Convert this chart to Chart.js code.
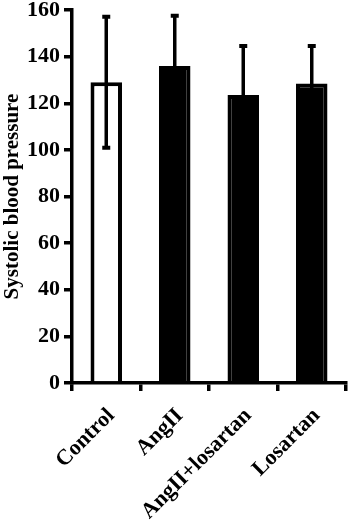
<!DOCTYPE html>
<html>
<head>
<meta charset="utf-8">
<script src="https://cdn.jsdelivr.net/npm/chart.js@4.4.0/dist/chart.umd.min.js"></script>
<style>
  html, body { margin: 0; padding: 0; background: #fff; }
  #wrap { width: 350px; height: 524px; position: relative; }
</style>
</head>
<body>
<div id="wrap"><canvas id="c" width="350" height="524"></canvas></div>
<script>
const categories = ['Control', 'AngII', 'AngII+losartan', 'Losartan'];
const meanValues = [129, 136, 123.5, 128.5];
const sdValues = [28.5, 22, 21.5, 16.5];
const fillColors = ['#ffffff', '#000000', '#000000', '#000000'];
const yTicks = [0, 20, 40, 60, 80, 100, 120, 140, 160];

const FONT = '"Liberation Serif", "Times New Roman", serif';

const errorBarPlugin = {
  id: 'errorBars',
  afterDatasetsDraw(chart) {
    const ctx = chart.ctx;
    const meta = chart.getDatasetMeta(0);
    const ys = chart.scales.y;
    ctx.save();
    ctx.strokeStyle = '#000';
    meta.data.forEach((bar, i) => {
      const x = bar.x;
      const yTop = ys.getPixelForValue(meanValues[i] + sdValues[i]);
      const yBot = ys.getPixelForValue(meanValues[i] - sdValues[i]);
      ctx.lineWidth = 3.5;
      ctx.beginPath();
      ctx.moveTo(x, yTop);
      ctx.lineTo(x, yBot);
      ctx.stroke();
      ctx.lineWidth = 4;
      ctx.beginPath();
      ctx.moveTo(x - 4, yTop + 1);
      ctx.lineTo(x + 4, yTop + 1);
      ctx.moveTo(x - 4, yBot - 1);
      ctx.lineTo(x + 4, yBot - 1);
      ctx.stroke();
    });
    ctx.restore();
  }
};

new Chart(document.getElementById('c'), {
  type: 'bar',
  data: {
    labels: categories,
    datasets: [{
      data: meanValues,
      backgroundColor: fillColors,
      borderColor: '#000',
      borderWidth: 4,
      borderSkipped: 'bottom',
      barPercentage: 0.46,
      categoryPercentage: 1.0
    }]
  },
  options: {
    responsive: false,
    animation: false,
    devicePixelRatio: 1,
    layout: { padding: { top: 10, right: 4, left: 0, bottom: 0 } },
    plugins: { legend: { display: false }, tooltip: { enabled: false } },
    scales: {
      x: {
        offset: true,
        grid: { display: true, offset: true, drawOnChartArea: false, drawTicks: true, tickLength: 8, lineWidth: 3.5, color: '#000' },
        border: { display: true, width: 3.5, color: '#000' },
        ticks: {
          color: '#000',
          maxRotation: 45, minRotation: 45,
          padding: 12,
          labelOffset: 5,
          font: { family: FONT, size: 22, weight: 'bold' }
        },
        afterFit(scale) { scale.height = 141; }
      },
      y: {
        min: 0, max: 160,
        afterBuildTicks(scale) { scale.ticks = yTicks.map(v => ({ value: v })); },
        grid: { display: true, drawOnChartArea: false, drawTicks: true, tickLength: 8, lineWidth: 3.5, color: '#000' },
        border: { display: true, width: 3.5, color: '#000' },
        ticks: {
          color: '#000',
          padding: 4,
          font: { family: FONT, size: 22, weight: 'bold' }
        },
        title: {
          display: true,
          text: 'Systolic blood pressure',
          color: '#000',
          padding: { top: 0, bottom: 0 },
          font: { family: FONT, size: 21, weight: 'bold' }
        },
        afterFit(scale) { scale.width = 72; scale.paddingTop = 0; scale.paddingBottom = 0; }
      }
    }
  },
  plugins: [errorBarPlugin]
});
</script>
</body>
</html>
